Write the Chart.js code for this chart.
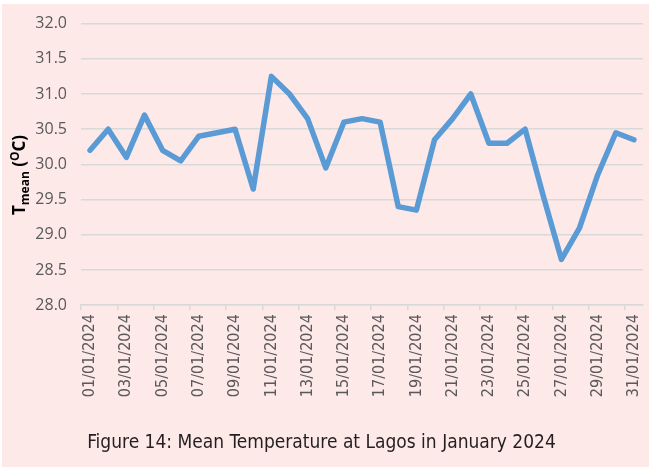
<!DOCTYPE html>
<html>
<head>
<meta charset="utf-8">
<script src="https://cdn.jsdelivr.net/npm/chart.js@4"></script>
<style>
  html, body { margin: 0; padding: 0; background: #ffffff; }
  #wrap { width: 649px; height: 467px; }
</style>
</head>
<body>
<div id="wrap"><canvas id="line-chart" width="649" height="467"></canvas></div>
<script>
// daily mean temperature, Lagos, January 2024
const days = [
  "01/01/2024","02/01/2024","03/01/2024","04/01/2024","05/01/2024","06/01/2024","07/01/2024","08/01/2024",
  "09/01/2024","10/01/2024","11/01/2024","12/01/2024","13/01/2024","14/01/2024","15/01/2024","16/01/2024",
  "17/01/2024","18/01/2024","19/01/2024","20/01/2024","21/01/2024","22/01/2024","23/01/2024","24/01/2024",
  "25/01/2024","26/01/2024","27/01/2024","28/01/2024","29/01/2024","30/01/2024","31/01/2024"
];
const tMean = [
  30.2, 30.5, 30.1, 30.7, 30.2, 30.05, 30.4, 30.45,
  30.5, 29.65, 31.25, 31.0, 30.65, 29.95, 30.6, 30.65,
  30.6, 29.4, 29.35, 30.35, 30.65, 31.0, 30.3, 30.3,
  30.5, 29.55, 28.65, 29.1, 29.85, 30.45, 30.35
];
const yMin = 28, yMax = 32, yStep = 0.5;
const figTitle = "Figure 14: Mean Temperature at Lagos in January 2024";

const pink = '#fee9e9';
const gridGrey = '#d9d9d9';
const labelGrey = '#595959';
const condensed = '"DejaVu Sans Condensed", "Liberation Sans Narrow", sans-serif';

// page background (thin white strip top/left like the source image)
const bgPlugin = {
  id: 'bg',
  beforeDraw(chart) {
    const c = chart.ctx;
    c.save();
    c.fillStyle = '#ffffff';
    c.fillRect(0, 0, chart.width, chart.height);
    c.fillStyle = pink;
    c.fillRect(2, 4, chart.width - 2, chart.height - 4);
    c.restore();
  }
};

// y axis title: T_mean (^O C)
const yTitlePlugin = {
  id: 'yTitle',
  afterDraw(chart) {
    const c = chart.ctx;
    const big = 'bold 17px "Open Sans"';
    const small = 'bold 12px "Open Sans"';
    const parts = [
      { t: 'T', f: big, dy: 0 },
      { t: 'mean', f: small, dy: 4 },
      { t: ' (', f: big, dy: 0 },
      { t: 'O', f: small, dy: -6 },
      { t: 'C)', f: big, dy: 0 }
    ];
    c.save();
    let total = 0;
    parts.forEach(p => { c.font = p.f; p.w = c.measureText(p.t).width; total += p.w; });
    c.translate(25, 175);
    c.rotate(-Math.PI / 2);
    c.fillStyle = '#000000';
    c.textBaseline = 'alphabetic';
    let x = -total / 2;
    parts.forEach(p => { c.font = p.f; c.fillText(p.t, x, p.dy); x += p.w; });
    c.restore();
  }
};

new Chart(document.getElementById("line-chart"), {
  type: 'line',
  data: {
    labels: days,
    datasets: [{
      data: tMean,
      borderColor: '#5b9bd5',
      borderWidth: 5.5,
      borderJoinStyle: 'round',
      borderCapStyle: 'round',
      pointRadius: 0,
      tension: 0,
      fill: false
    }]
  },
  options: {
    responsive: false,
    animation: false,
    devicePixelRatio: 1,
    layout: { padding: { top: 14, right: 6, left: 0, bottom: 0 } },
    plugins: {
      legend: { display: false },
      tooltip: { enabled: false },
      title: {
        display: true,
        position: 'bottom',
        text: figTitle,
        color: '#231f20',
        font: { family: condensed, size: 19, weight: 'normal' },
        padding: { top: 22, bottom: 13 }
      }
    },
    scales: {
      x: {
        offset: true,
        afterFit(scale) {
          scale.height = 104;
          scale.paddingLeft = 0;
          scale.paddingRight = 0;
        },
        border: { display: true, color: gridGrey, width: 1.5 },
        grid: {
          offset: true,
          drawOnChartArea: false,
          drawTicks: true,
          tickLength: 5,
          lineWidth: 1.5,
          color: ctx => (ctx.index % 2 === 0 ? gridGrey : 'rgba(0,0,0,0)')
        },
        ticks: {
          autoSkip: false,
          maxRotation: 90,
          minRotation: 90,
          padding: 4,
          color: labelGrey,
          font: { family: condensed, size: 16 },
          callback: (v, i) => (i % 2 === 0 ? days[i] : '')
        }
      },
      y: {
        min: yMin,
        max: yMax,
        afterFit(scale) { scale.width = 81; },
        border: { display: false },
        grid: { color: gridGrey, lineWidth: 1.5, drawTicks: false },
        ticks: {
          stepSize: yStep,
          padding: 14,
          color: labelGrey,
          font: { family: '"Open Sans"', size: 16 },
          callback: v => Number(v).toFixed(1)
        }
      }
    }
  },
  plugins: [bgPlugin, yTitlePlugin]
});
</script>
</body>
</html>
